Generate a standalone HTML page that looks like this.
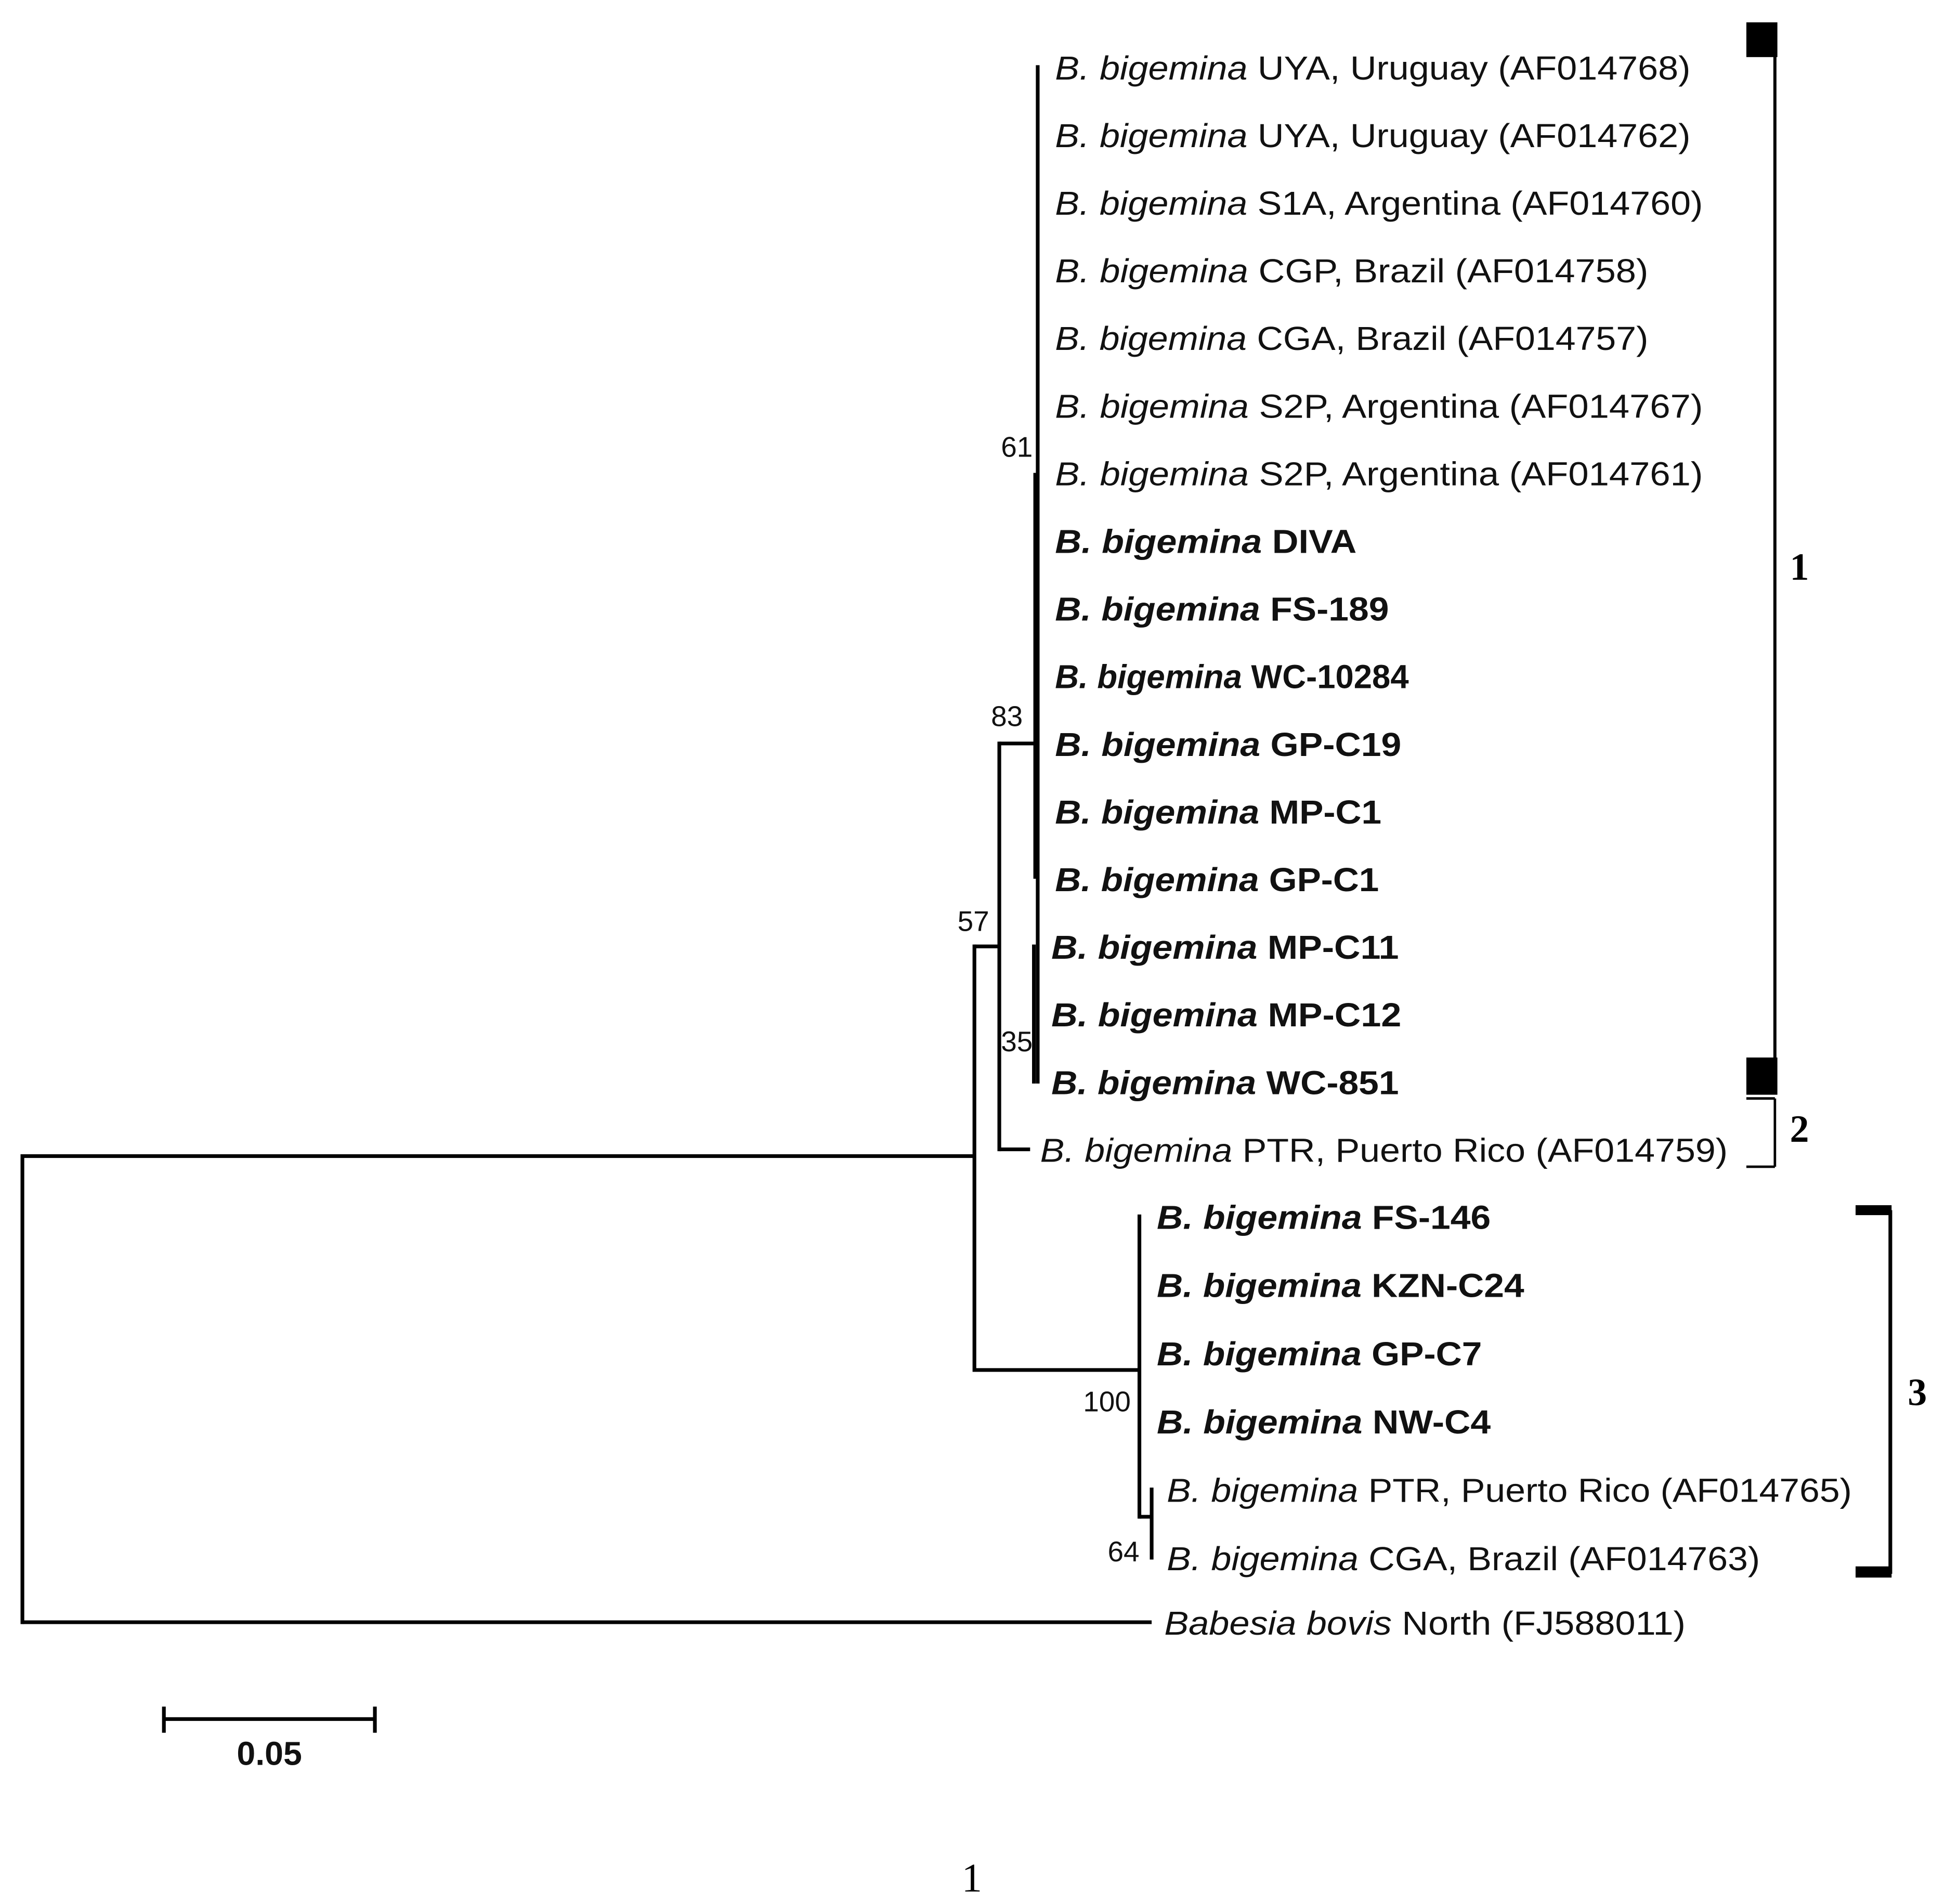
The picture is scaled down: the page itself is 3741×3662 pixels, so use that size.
<!DOCTYPE html>
<html><head><meta charset="utf-8"><style>
html,body{margin:0;padding:0;background:#fff;}
svg{display:block;}
.lab{font-family:"Liberation Sans",sans-serif;font-size:27px;fill:#111;}
.bs{font-family:"Liberation Sans",sans-serif;font-size:23px;fill:#111;}
.cl{font-family:"Liberation Serif",serif;font-size:31px;font-weight:bold;fill:#000;}
</style></head><body>
<svg id="tree" width="3741" height="3662" viewBox="0 0 1567 1534" xmlns="http://www.w3.org/2000/svg">
<g id="branches" stroke="#000" stroke-width="3" fill="none"></g>
<g id="labels"></g>
<g id="extras"></g>
</svg>
<script>
// Taxa (top to bottom)
const taxaStrain = ["UYA, Uruguay (AF014768)","UYA, Uruguay (AF014762)","S1A, Argentina (AF014760)","CGP, Brazil (AF014758)","CGA, Brazil (AF014757)","S2P, Argentina (AF014767)","S2P, Argentina (AF014761)","DIVA","FS-189","WC-10284","GP-C19","MP-C1","GP-C1","MP-C11","MP-C12","WC-851","PTR, Puerto Rico (AF014759)","FS-146","KZN-C24","GP-C7","NW-C4","PTR, Puerto Rico (AF014765)","CGA, Brazil (AF014763)","North (FJ588011)"];
const taxaBold = [0,0,0,0,0,0,0,1,1,1,1,1,1,1,1,1,0,1,1,1,1,0,0,0];
const labelWidths = [512,512,522,478,478,522,522,243,269,285,279,263,261,280,282,280,554,269,296,262,269,552,478,420];
// internal nodes: root, n57, n83, clade1, n35, n100, n64
const nodeDepth = [0.0, 0.2256, 0.2315, 0.2406, 0.2397, 0.2647, 0.2676];
const nodeParent = [-1, 0, 1, 2, 3, 1, 5];
const nodeRow = [16.1, 16.1, 13.0, 10.0, 14.0, 19.25, 21.4];
const nodeSpanTop = [16.1, 13.0, 10.0, 0, 13.0, 17, 21];
const nodeSpanBottom = [23, 19.25, 16, 15, 15, 21.4, 22];
const bootstrap = ["", "57", "83", "61", "35", "100", "64"];
const tipDepthPTR = 0.2388;
const tipDepthBovis = 0.2676;
const scaleValue = 0.05;

const X0 = 18, PX = 3400;
const xs = d => X0 + d * PX;
function yRow(r){
  if (r <= 16.5) return 54 + r*54.5;
  if (r <= 22) return 980 + (r-17)*55;
  return 1307;
}
const NS = "http://www.w3.org/2000/svg";
const br = document.getElementById('branches');
const lb = document.getElementById('labels');
const ex = document.getElementById('extras');
function line(g,x1,y1,x2,y2,name,w){
  const l=document.createElementNS(NS,'line');
  l.setAttribute('x1',x1);l.setAttribute('y1',y1);l.setAttribute('x2',x2);l.setAttribute('y2',y2);
  l.setAttribute('stroke','#000');
  l.setAttribute('stroke-width',w||3);
  
  
  g.appendChild(l);return l;
}
for(let k=0;k<nodeDepth.length;k++){
  const x=xs(nodeDepth[k]);
  line(br,x,yRow(nodeSpanTop[k])-1.5,x,yRow(nodeSpanBottom[k])+1.5,'node-vertical-'+k);
  if(nodeParent[k]>=0 && k!==4){
    const px=xs(nodeDepth[nodeParent[k]]);
    const y = yRow(nodeRow[k]);
    line(br,px,y,x,y,'node-branch-'+k);
  }
}
line(br,xs(nodeDepth[3])-1.5,yRow(6),xs(nodeDepth[3])-1.5,yRow(12),'clade1-thick',4);
line(br,xs(nodeDepth[2]),yRow(16),xs(tipDepthPTR),yRow(16),'tip-branch-ptr');
line(br,xs(nodeDepth[0]),yRow(23),xs(tipDepthBovis),yRow(23),'tip-branch-bovis');
for(let i=0;i<taxaStrain.length;i++){
  const t=document.createElementNS(NS,'text');
  let x = i===23 ? 938 : (i<16 ? (i>=13?847:850) : (i===16?838:(i<21?932:940)));
  t.setAttribute('x',x);t.setAttribute('y',yRow(i)+10);
  t.setAttribute('class','lab');
  t.setAttribute('textLength',labelWidths[i]);t.setAttribute('lengthAdjust','spacingAndGlyphs');
  if(taxaBold[i]) t.setAttribute('font-weight','bold');
  const s=document.createElementNS(NS,'tspan');s.setAttribute('font-style','italic');
  s.textContent = i===23 ? 'Babesia bovis' : 'B. bigemina';
  t.appendChild(s);t.appendChild(document.createTextNode(' '+taxaStrain[i]));
  
  
  lb.appendChild(t);
}
function txt(x,y,s,cls,name,anchor){
  const t=document.createElementNS(NS,'text');
  t.setAttribute('x',x);t.setAttribute('y',y);t.setAttribute('class',cls);
  if(anchor)t.setAttribute('text-anchor',anchor);
  t.textContent=s;
  
  
  ex.appendChild(t);return t;
}
const bsPos = [[0,0],[797,750],[824,585],[832,368],[832,847],[911,1137],[918,1258]];
for(let k=1;k<bootstrap.length;k++){
  txt(bsPos[k][0],bsPos[k][1],bootstrap[k],'bs','bootstrap-'+bootstrap[k],'end');
}
function rect(x,y,w,h,name){
  const r=document.createElementNS(NS,'rect');
  r.setAttribute('x',x);r.setAttribute('y',y);r.setAttribute('width',w);r.setAttribute('height',h);r.setAttribute('fill','#000');
  
  
  ex.appendChild(r);
}
line(ex,1430,18,1430,882,'clade1-bracket',2.5);
rect(1407,18,25,28,'clade1-bracket-top');
rect(1407,852,25,30,'clade1-bracket-bottom');
txt(1442,467,'1','cl','clade1-label');
line(ex,1430,885,1430,940,'clade2-bracket',2);
line(ex,1407,885,1430,885,'clade2-bracket-top',2);
line(ex,1407,940,1430,940,'clade2-bracket-bottom',2);
txt(1442,920,'2','cl','clade2-label');
line(ex,1523,975,1523,1268,'clade3-bracket',3);
rect(1495,971,29,8,'clade3-bracket-top');
rect(1495,1262,29,9,'clade3-bracket-bottom');
txt(1537,1132,'3','cl','clade3-label');
const sb0=132, sb1=sb0+scaleValue*PX;
line(ex,sb0,1385,sb1,1385,'scale-bar',3);
line(ex,sb0,1375,sb0,1396,'scale-bar-tick-left',3);
line(ex,sb1,1375,sb1,1396,'scale-bar-tick-right',3);
const st=txt((sb0+sb1)/2,1422,String(scaleValue),'lab','scale-bar-label','middle');
st.setAttribute('font-weight','bold');st.setAttribute('font-size','25');
const pn=txt(783,1524,'1','cl','page-number','middle');
pn.setAttribute('style','font-weight:normal;font-size:33px');
</script>
</body></html>
